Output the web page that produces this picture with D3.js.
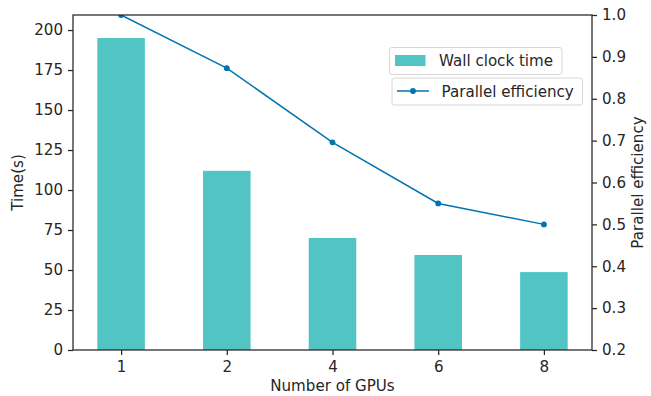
<!DOCTYPE html>
<html>
<head>
<meta charset="utf-8">
<script src="https://cdn.jsdelivr.net/npm/d3@7"></script>
<style>
  html, body { margin: 0; padding: 0; background: #fff; }
  svg { display: block; font-family: "DejaVu Sans", sans-serif; }
</style>
</head>
<body>
<svg id="chart" width="651" height="396"></svg>
<script>
const categories = ["1", "2", "4", "6", "8"];
const wallClockTime = [195, 112, 70, 59.4, 48.7];
const parallelEfficiency = [1.0, 0.873, 0.696, 0.550, 0.500];
const leftTicks = [0, 25, 50, 75, 100, 125, 150, 175, 200];
const rightTicks = [0.2, 0.3, 0.4, 0.5, 0.6, 0.7, 0.8, 0.9, 1.0];

const W = 651, H = 396;
const m = { left: 73, right: 592, top: 15, bottom: 350 };
const textColor = "#262626";
const barColor = "#52c4c4";
const lineColor = "#0173b2";
const fs = 15.1;

const svg = d3.select("#chart");

const x = d3.scaleLinear().domain([-0.455, categories.length - 1 + 0.455]).range([m.left, m.right]);
const yL = d3.scaleLinear().domain([0, 209.4]).range([m.bottom, m.top]);
const yR = d3.scaleLinear().domain([0.2, 1.0]).range([m.bottom, m.top]);
const barW = 0.45;

svg.append("defs").append("clipPath").attr("id", "clip")
  .append("rect").attr("x", m.left).attr("y", m.top)
  .attr("width", m.right - m.left).attr("height", m.bottom - m.top);

// bars
svg.append("g").selectAll("rect").data(wallClockTime).join("rect")
  .attr("x", (d, i) => x(i - barW / 2))
  .attr("width", (d, i) => x(i + barW / 2) - x(i - barW / 2))
  .attr("y", d => yL(d))
  .attr("height", d => yL(0) - yL(d))
  .attr("fill", barColor);

// line
const lg = svg.append("g").attr("clip-path", "url(#clip)");
lg.append("path").datum(parallelEfficiency)
  .attr("d", d3.line().x((d, i) => x(i)).y(d => yR(d)))
  .attr("fill", "none").attr("stroke", lineColor).attr("stroke-width", 1.5);
lg.selectAll("circle").data(parallelEfficiency).join("circle")
  .attr("cx", (d, i) => x(i)).attr("cy", d => yR(d)).attr("r", 2.9)
  .attr("fill", lineColor);

// axes
function styleAxis(g) {
  g.select(".domain").remove();
  g.selectAll(".tick line").attr("stroke", textColor).attr("stroke-width", 1.25);
  g.selectAll(".tick text").attr("fill", textColor).style("font-size", fs + "px")
    .style("font-family", "DejaVu Sans, sans-serif");
}
svg.append("g").attr("transform", `translate(${m.left},0)`)
  .call(d3.axisLeft(yL).tickValues(leftTicks).tickSize(5).tickPadding(5).tickFormat(d3.format("d")))
  .call(styleAxis);
svg.append("g").attr("transform", `translate(${m.right},0)`)
  .call(d3.axisRight(yR).tickValues(rightTicks).tickSize(5).tickPadding(5).tickFormat(d3.format(".1f")))
  .call(styleAxis);
svg.append("g").attr("transform", `translate(0,${m.bottom})`)
  .call(d3.axisBottom(x).tickValues(d3.range(categories.length)).tickSize(5).tickPadding(6)
    .tickFormat(i => categories[i]))
  .call(styleAxis);

// spines
svg.append("rect").attr("x", m.left).attr("y", m.top)
  .attr("width", m.right - m.left).attr("height", m.bottom - m.top)
  .attr("fill", "none").attr("stroke", textColor).attr("stroke-width", 1.25);

// axis labels
svg.append("text").attr("x", (m.left + m.right) / 2).attr("y", 391)
  .attr("text-anchor", "middle").attr("fill", textColor).style("font-size", fs + "px")
  .text("Number of GPUs");
svg.append("text").attr("transform", `translate(23,${(m.top + m.bottom) / 2}) rotate(-90)`)
  .attr("text-anchor", "middle").attr("fill", textColor).style("font-size", fs + "px")
  .text("Time(s)");
svg.append("text").attr("transform", `translate(643,${(m.top + m.bottom) / 2}) rotate(-90)`)
  .attr("text-anchor", "middle").attr("fill", textColor).style("font-size", fs + "px")
  .text("Parallel efficiency");

// legends
function legendBox(x0, y0, w, h) {
  svg.append("rect").attr("x", x0).attr("y", y0).attr("width", w).attr("height", h)
    .attr("rx", 2.5).attr("fill", "rgba(255,255,255,0.8)")
    .attr("stroke", "#d6d6d6").attr("stroke-width", 1);
}
legendBox(389.5, 47.5, 172.5, 27);
svg.append("rect").attr("x", 395).attr("y", 55).attr("width", 30.5).attr("height", 11)
  .attr("fill", barColor);
svg.append("text").attr("x", 439).attr("y", 66).attr("fill", textColor)
  .style("font-size", fs + "px").text("Wall clock time");

legendBox(392, 78, 190.5, 27);
svg.append("line").attr("x1", 397).attr("x2", 429).attr("y1", 91).attr("y2", 91)
  .attr("stroke", lineColor).attr("stroke-width", 1.5);
svg.append("circle").attr("cx", 413).attr("cy", 91).attr("r", 2.9).attr("fill", lineColor);
svg.append("text").attr("x", 441.5).attr("y", 96.5).attr("fill", textColor)
  .style("font-size", fs + "px").text("Parallel efficiency");
</script>
</body>
</html>
